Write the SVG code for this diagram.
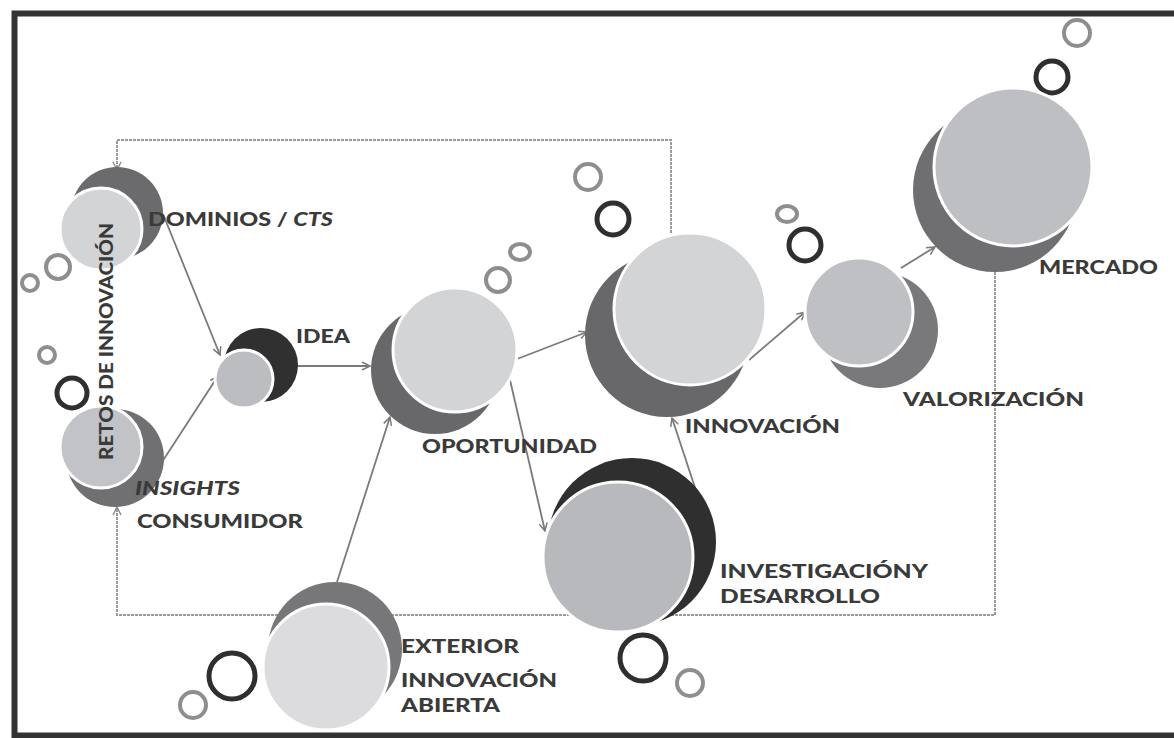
<svg xmlns="http://www.w3.org/2000/svg" width="1174" height="738" viewBox="0 0 1174 738">
<defs>
<marker id="arr" markerWidth="12" markerHeight="12" refX="9" refY="5" orient="auto" markerUnits="userSpaceOnUse">
<path d="M1,1 L9,5 L1,9" fill="none" stroke="#7a7a7a" stroke-width="1.5"/>
</marker>
<marker id="arrd" markerWidth="12" markerHeight="12" refX="9" refY="5" orient="auto" markerUnits="userSpaceOnUse">
<path d="M1,1 L9,5 L1,9" fill="none" stroke="#8a8a8a" stroke-width="1.4"/>
</marker>
</defs>
<style>
.frame{fill:none;stroke:#333;stroke-width:6}
.loop{fill:none;stroke:#9a9a9a;stroke-width:2;stroke-dasharray:3 1}
.arrow{fill:none;stroke:#7a7a7a;stroke-width:1.8}
.front{stroke:#fff;stroke-width:3}
.ringg{fill:none;stroke:#8e8e90;stroke-width:4}
.ringd{fill:none;stroke:#2f2f2f;stroke-width:5}
.lbl{font-family:Lato,"Liberation Sans",sans-serif;font-weight:900;font-size:19px;fill:#3a3a3a}
.it{font-style:italic}
</style>
<rect x="0" y="0" width="1174" height="738" fill="#fff"/>
<rect class="frame" x="14.5" y="13.5" width="1175" height="722"/>

<g id="connectors">
<polyline class="loop" points="671,233 671,140 117,140 117,170" marker-end="url(#arrd)"/>
<polyline class="loop" points="995,272 995,615 117,615 117,507" marker-end="url(#arrd)"/>
<line class="arrow" x1="163" y1="214" x2="220" y2="355" marker-end="url(#arr)"/>
<line class="arrow" x1="162" y1="462" x2="218" y2="376" marker-end="url(#arr)"/>
<line class="arrow" x1="297" y1="366" x2="370" y2="366" marker-end="url(#arr)"/>
<line class="arrow" x1="337" y1="582" x2="390" y2="417" marker-end="url(#arr)"/>
<line class="arrow" x1="517" y1="359" x2="587" y2="332" marker-end="url(#arr)"/>
<line class="arrow" x1="510" y1="380" x2="545" y2="531" marker-end="url(#arr)"/>
<line class="arrow" x1="713" y1="542" x2="672" y2="418" marker-end="url(#arr)"/>
<line class="arrow" x1="749" y1="360" x2="805" y2="312" marker-end="url(#arr)"/>
<line class="arrow" x1="901" y1="268" x2="935" y2="247" marker-end="url(#arr)"/>
</g>

<g id="rings">
<circle class="ringg" cx="30" cy="283" r="8"/>
<circle class="ringg" cx="58" cy="267" r="12"/>
<circle class="ringg" cx="47" cy="355" r="8"/>
<circle class="ringd" cx="72" cy="393" r="15"/>
<circle class="ringg" cx="498" cy="280" r="12"/>
<ellipse class="ringg" cx="520" cy="252" rx="10" ry="8"/>
<circle class="ringg" cx="588" cy="177" r="13"/>
<circle class="ringd" cx="613" cy="219" r="16"/>
<ellipse class="ringg" cx="787" cy="214" rx="10" ry="8"/>
<circle class="ringd" cx="805" cy="245" r="16"/>
<circle class="ringg" cx="1077" cy="33" r="13"/>
<circle class="ringd" cx="1052" cy="77" r="16"/>
<circle class="ringd" cx="643" cy="658" r="23"/>
<circle class="ringg" cx="690" cy="683" r="13"/>
<circle class="ringd" cx="232" cy="676" r="23"/>
<circle class="ringg" cx="193" cy="705" r="13"/>
</g>

<g id="dominios">
<circle cx="117" cy="213" r="46" fill="#6b6b6e"/>
<circle class="front" cx="101" cy="229" r="41" fill="#d3d4d6"/>
<text class="lbl" x="148" y="226" textLength="185" lengthAdjust="spacingAndGlyphs">DOMINIOS / <tspan class="it">CTS</tspan></text>
</g>

<g id="insights">
<circle cx="115" cy="458" r="49" fill="#707073"/>
<circle class="front" cx="101" cy="447" r="41" fill="#c2c3c6"/>
<text class="lbl it" x="135" y="495" textLength="105" lengthAdjust="spacingAndGlyphs">INSIGHTS</text>
<text class="lbl" x="137" y="528" textLength="166" lengthAdjust="spacingAndGlyphs">CONSUMIDOR</text>
</g>

<g id="idea">
<circle cx="261" cy="365" r="37" fill="#303030"/>
<circle class="front" cx="244" cy="379" r="29" fill="#bcbdc0"/>
<text class="lbl" x="296" y="343" textLength="54" lengthAdjust="spacingAndGlyphs">IDEA</text>
</g>

<g id="oportunidad">
<circle cx="435" cy="370" r="64" fill="#68686b"/>
<circle class="front" cx="455" cy="350" r="62" fill="#d3d4d6"/>
<text class="lbl" x="422" y="453" textLength="175" lengthAdjust="spacingAndGlyphs">OPORTUNIDAD</text>
</g>

<g id="innovacion">
<circle cx="667" cy="335" r="82" fill="#68686b"/>
<circle class="front" cx="690" cy="309" r="76" fill="#d3d4d6"/>
<text class="lbl" x="685" y="433" textLength="155" lengthAdjust="spacingAndGlyphs">INNOVACIÓN</text>
</g>

<g id="valorizacion">
<circle cx="880" cy="330" r="58" fill="#79797c"/>
<circle class="front" cx="859" cy="312" r="54" fill="#bfc0c3"/>
<text class="lbl" x="903" y="406" textLength="181" lengthAdjust="spacingAndGlyphs">VALORIZACIÓN</text>
</g>

<g id="mercado">
<circle cx="995" cy="190" r="82" fill="#6f6f72"/>
<circle class="front" cx="1013" cy="167" r="79" fill="#bebfc2"/>
<text class="lbl" x="1039" y="274" textLength="119" lengthAdjust="spacingAndGlyphs">MERCADO</text>
</g>

<g id="investigacion">
<circle cx="632" cy="542" r="84" fill="#2f2f2f"/>
<circle class="front" cx="618" cy="557" r="75" fill="#b8b9bc"/>
<text class="lbl" x="720" y="578" textLength="208" lengthAdjust="spacingAndGlyphs">INVESTIGACIÓNY</text>
<text class="lbl" x="720" y="603" textLength="160" lengthAdjust="spacingAndGlyphs">DESARROLLO</text>
</g>

<g id="exterior">
<circle cx="335" cy="649" r="67" fill="#77777a"/>
<circle class="front" cx="326" cy="667" r="63" fill="#dcdcde"/>
<text class="lbl" x="401" y="653" textLength="118" lengthAdjust="spacingAndGlyphs">EXTERIOR</text>
<text class="lbl" x="401" y="687" textLength="156" lengthAdjust="spacingAndGlyphs">INNOVACIÓN</text>
<text class="lbl" x="401" y="712" textLength="99" lengthAdjust="spacingAndGlyphs">ABIERTA</text>
</g>

<g id="retos">
<text class="lbl" transform="translate(113,460) rotate(-90)" textLength="237" lengthAdjust="spacingAndGlyphs" font-size="17">RETOS DE INNOVACIÓN</text>
</g>
</svg>
